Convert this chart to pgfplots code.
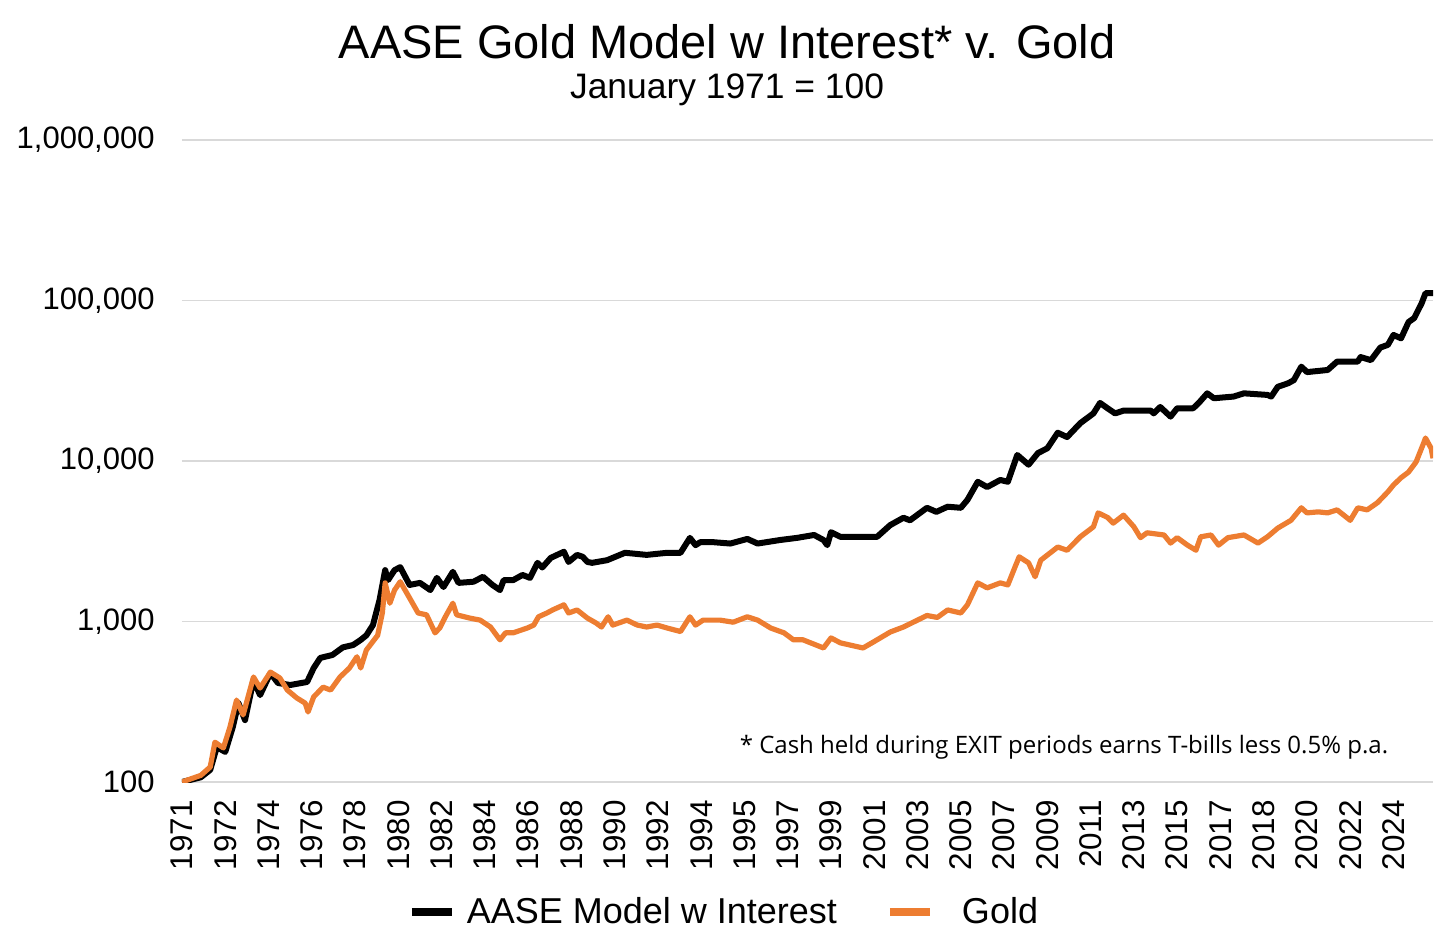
\documentclass[border=0pt]{standalone}
\usepackage{fontspec}
\setmainfont{Liberation Sans}
\newfontfamily\notefont{Open Sans}
\usepackage{pgfplots}
\usepackage{pgfplotstable}
\pgfplotsset{compat=1.18}
\definecolor{goldc}{RGB}{237,125,49}
\definecolor{gridc}{RGB}{217,217,217}

\pgfplotstableread{
m v
0 100
10 107
15 119
18.5 165
23 154
27 220
30 310
33.5 243
38 432
41.5 348
47 477
51 414
57.5 402
66.5 420
70 513
73.5 593
80 619
85.5 690
91 714
95 768
98 820
101.5 950
105 1360
108 2090
109.5 1810
113 2090
116 2180
121 1690
126.5 1740
132 1570
135.5 1870
139 1640
144 2040
147 1740
155 1770
160 1900
165 1690
169 1570
171 1810
176 1810
181 1950
185 1870
189 2320
191.5 2170
196 2490
203 2720
205.5 2350
210 2600
213 2530
215.5 2350
218 2320
226 2410
235.5 2680
247 2600
258 2680
265 2680
270 3320
273 2990
275.5 3120
282.5 3120
291.5 3060
300.5 3270
306 3060
318 3220
327 3320
336 3460
341 3220
343 2990
345 3600
350 3370
360.5 3370
369.5 3370
376.5 3990
383.5 4430
387 4270
396 5110
401 4820
407 5190
414 5110
417.5 5720
423 7420
428 6880
435 7620
439 7420
444 10900
450 9480
455 11200
460 12000
465.5 15000
470.5 14100
477.5 17200
484.5 19800
488 23000
492 21300
496 19800
500.5 20600
515 20600
516.5 19800
520 21700
525.5 18900
529 21300
537.5 21300
540.5 23000
545 26400
548.5 24600
559 25200
564.5 26400
577 25800
579 25200
582.5 29000
588 30500
591 31900
595 38700
598 35800
609 36900
614 41600
625 41600
626.5 44400
632 42500
637 50900
641 52900
644 61000
648 58100
652 73400
655 77700
659 96300
661 111000
665 111000
}\modeltab

\pgfplotstableread{
m v
0 100
10 110
15 124
17.5 177
22 163
25.5 220
29 324
32.5 262
38 451
41.5 385
47 484
52 445
56 374
61 334
65.5 310
67 273
70 339
75 390
79 374
84 451
89 513
93 603
95 513
98 664
104 820
106.5 1130
108 1740
110.5 1300
113 1570
116 1770
121 1400
125.5 1130
130 1100
134.5 850
137 910
140 1070
144 1300
146 1100
153 1050
158.5 1020
164 924
169 769
172 850
176 850
183.5 910
187 950
189.5 1070
194 1130
197 1180
203 1270
205.5 1130
210 1180
215.5 1050
220 980
223 924
226.5 1070
229 950
236.5 1020
242 950
247 924
252.5 950
258 910
265 866
270 1070
273 950
277 1020
286 1020
293 990
300.5 1070
306 1020
313 910
320 850
325 769
330 770
341 684
345 790
350 736
362 684
367.5 745
376.5 860
383.5 924
396 1090
401.5 1060
407 1180
414 1130
417.5 1270
423 1740
428 1620
435 1740
439 1690
445 2530
450 2320
453.5 1900
456.5 2410
465.5 2910
470.5 2780
477.5 3370
484.5 3890
487 4750
492 4450
495 4100
500.5 4600
506 3890
509.5 3330
513 3570
522 3460
525.5 3080
529 3330
534.5 2990
539 2780
541.5 3370
547 3460
551 2990
556 3330
564.5 3460
572 3080
577 3370
582.5 3820
589.5 4270
595 5110
598 4750
604 4820
609 4750
614 4960
621 4270
625 5110
630 4960
635.5 5500
641 6420
644 7090
648 7860
652 8530
656 9860
660 12900
661 13900
664 12000
665 10400
}\goldtab

\begin{document}
\begin{tikzpicture}
\begin{axis}[
  scale only axis,
  width=625.5pt, height=321pt,
  ymode=log, ymin=100, ymax=1000000,
  xmin=0, xmax=665,
  axis line style={draw=none},
  major tick length=0pt, minor tick length=0pt,
  yminorticks=false,
  ymajorgrids, grid style={gridc, line width=0.6pt},
  ytick={100,1000,10000,100000,1000000},
  yticklabels={100,{1,000},{10,000},{100,000},{1,000,000}},
  xtick={0,23,...,644},
  xticklabels={1971,1972,1974,1976,1978,1980,1982,1984,1986,1988,1990,1992,1994,1995,1997,1999,2001,2003,2005,2007,2009,2011,2013,2015,2017,2018,2020,2022,2024},
  /pgf/number format/assume math mode=true,
  yticklabel style={font=\fontsize{15.5}{18}\selectfont, anchor=east, inner sep=0pt},
  yticklabel shift=13.5pt,
  xticklabel style={font=\fontsize{15.7}{18}\selectfont, rotate=90, anchor=east, inner sep=0pt},
  xticklabel shift=9pt,
  clip mode=individual,
  line join=round,
  legend style={draw=none, fill=none, at={(0.434,-0.2025)}, anchor=center,
    font=\fontsize{18}{21}\selectfont,
    /tikz/every odd column/.append style={column sep=3.5pt},
    /tikz/every even column/.append style={column sep=22.5pt}},
  legend columns=2,
  legend image code/.code={\draw[#1, line width=4pt] (0pt,0pt) -- (20pt,0pt);},
]
\addplot[black, line width=3pt] table[x=m, y=v] {\modeltab};
\addlegendentry{AASE Model w Interest}
\addplot[goldc, line width=2.6pt] table[x=m, y=v] {\goldtab};
\addlegendentry{\hspace{8.5pt}Gold}
\coordinate (sw) at (rel axis cs:0,0);
\node[font=\fontsize{23.5}{28}\selectfont, anchor=center] at ([yshift=49pt]rel axis cs:0.4357,1) {AASE Gold Model w Interest* v. Gold};
\node[font=\fontsize{17.7}{21}\selectfont, anchor=center] at ([yshift=25pt]rel axis cs:0.4357,1) {January 1971 = 100};
\node[font=\notefont\fontsize{12}{14}\selectfont, anchor=center] at ([yshift=17.5pt]rel axis cs:0.705,0) {* Cash held during EXIT periods earns T-bills less 0.5\% p.a.};
\end{axis}
\pgfresetboundingbox
\path[use as bounding box] ([xshift=-91pt,yshift=-83.5pt]sw) rectangle ([xshift=637pt,yshift=391pt]sw);
\end{tikzpicture}
\end{document}
